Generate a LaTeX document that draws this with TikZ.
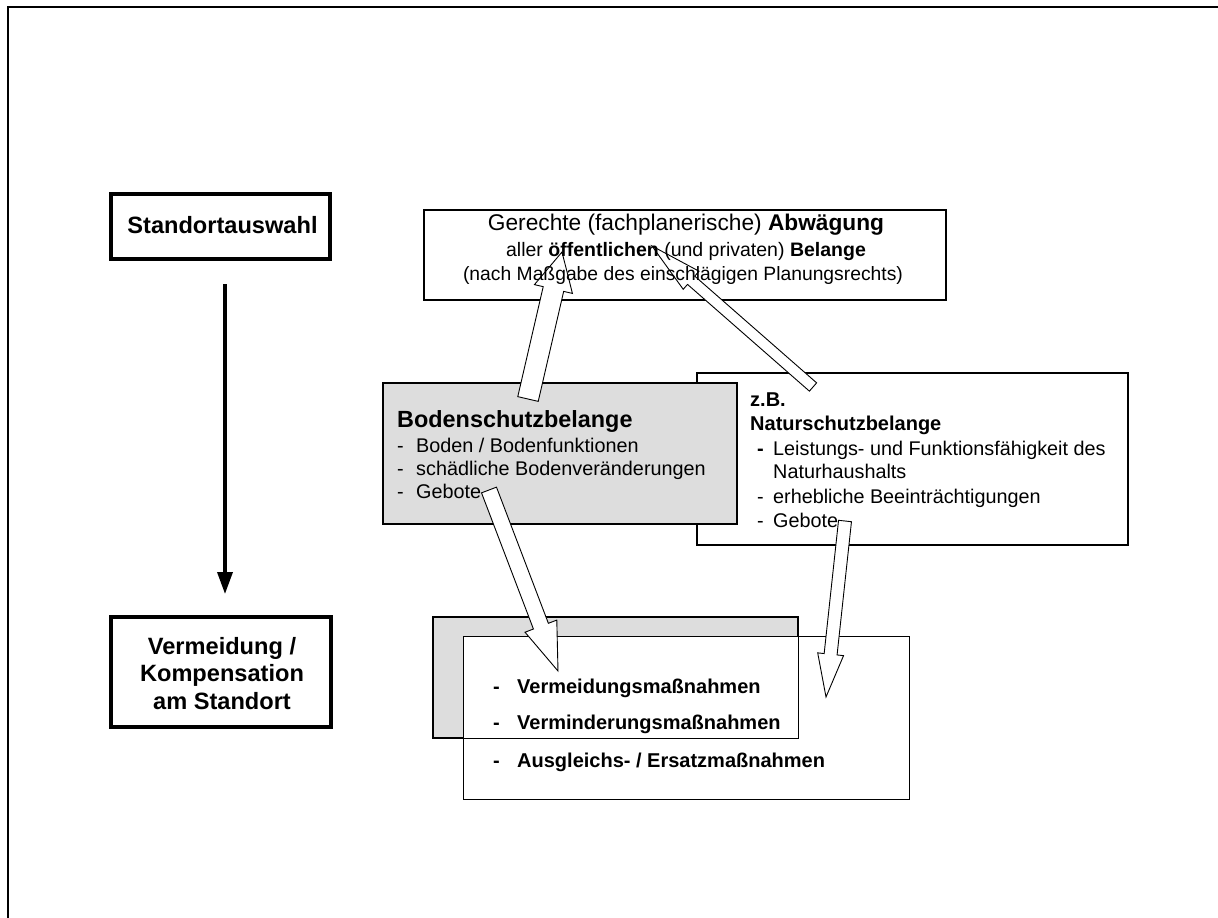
\documentclass[tikz,border=0pt]{standalone}
\usepackage{fontspec}
\setmainfont{Liberation Sans}
\usetikzlibrary{calc,arrows.meta}
\definecolor{boxgray}{RGB}{221,221,221}
\newcommand\blockarrow[5]{%
  \path ($(#2)!#5!(#1)$) coordinate (ahb);
  \draw[blockarr] ($(#1)!#3!90:(#2)$) -- ($(ahb)!#3!90:(#2)$) -- ($(ahb)!#4!90:(#2)$) -- (#2)
    -- ($(ahb)!#4!-90:(#2)$) -- ($(ahb)!#3!-90:(#2)$) -- ($(#1)!#3!-90:(#2)$) -- cycle;
}
\tikzset{
  thickbox/.style={draw, line width=4pt, fill=white, inner sep=0pt},
  thinbox/.style={draw, line width=1.1pt, fill=white, inner sep=0pt},
  graybox/.style={draw, line width=1.1pt, fill=boxgray, inner sep=0pt},
  blockarr/.style={draw, fill=white, line width=0.9pt, line join=miter},
  vert/.style={line width=3.5pt, -{Triangle[length=22pt,width=15pt]}},
  txt/.style={inner sep=0pt, anchor=base west},
  ctxt/.style={inner sep=0pt, anchor=base},
  bigb/.style={font=\fontsize{23.6}{27}\selectfont\bfseries},
  headb/.style={font=\fontsize{23.4}{27}\selectfont\bfseries},
  item/.style={font=\fontsize{19.8}{23}\selectfont},
  itemb/.style={font=\fontsize{20}{23}\selectfont\bfseries},
}
\begin{document}
\begin{tikzpicture}[x=1pt,y=-1pt]
\useasboundingbox (0,0) rectangle (1218,918);
% outer frame
\draw[line width=2pt] (8,918) -- (8,7) -- (1218,7);

% left column
\node[thickbox, minimum width=219pt, minimum height=65pt] (std) at (220.5,226.5) {};
\node[thickbox, minimum width=220pt, minimum height=110pt] (verm) at (221,672) {};
\draw[vert, shorten <=23pt, shorten >=21pt] ([xshift=4.5pt]std.south) -- ([xshift=4pt]verm.north);

% boxes
\node[thinbox, minimum width=522pt, minimum height=90pt] (abw) at (685,255) {};
\node[thinbox, minimum width=431pt, minimum height=172pt] (natur) at (912.5,459) {};
\node[graybox, minimum width=354pt, minimum height=141pt] (boden) at (560,453.5) {};
\node[graybox, minimum width=365pt, minimum height=121pt] (mgray) at (615.5,677.5) {};
\node[thinbox, draw=none, minimum width=445pt, minimum height=162pt] (mwhite) at (686.5,718) {};
\draw[line width=1.1pt] (mgray.north west) rectangle (mgray.south east);
\draw[line width=1.1pt] (mwhite.north west) rectangle (mwhite.south east);

% block arrows
\coordinate (a1t) at (528,399); \coordinate (a1h) at (562,252);
\blockarrow{a1t}{a1h}{10.5pt}{19.5pt}{38pt}
\coordinate (a2t) at (813,387); \coordinate (a2h) at (652,246);
\blockarrow{a2t}{a2h}{5.5pt}{12pt}{52pt}
\coordinate (a3t) at (489,490); \coordinate (a3h) at (558,671);
\blockarrow{a3t}{a3h}{8pt}{17pt}{48pt}
\coordinate (a4t) at (845,521); \coordinate (a4h) at (826,697);
\blockarrow{a4t}{a4h}{6.5pt}{13pt}{43pt}

% texts left
\node[ctxt, bigb] (stdt) at (222.5,233) {Standortauswahl};
\node[ctxt, bigb] (vt1) at (222,654) {Vermeidung /};
\node[ctxt, bigb] (vt2) at (222,681.5) {Kompensation};
\node[ctxt, bigb] (vt3) at (222,709) {am Standort};

% texts top box
\node[ctxt, font=\fontsize{22.7}{26}\selectfont] (g1) at (686,230) {Gerechte (fachplanerische) \textbf{Abwägung}};
\node[ctxt, font=\fontsize{19.5}{23}\selectfont] (g2) at (686,256.5) {aller \textbf{öffentlichen} (und privaten) \textbf{Belange}};
\node[ctxt, font=\fontsize{19.3}{23}\selectfont] (g3) at (683,280) {(nach Maßgabe des einschlägigen Planungsrechts)};

% texts Bodenschutz
\node[txt, headb] (bt) at (397,427) {Bodenschutzbelange};
\node[txt, item] (bd1) at (397,452) {-};
\node[txt, item] (bi1) at (416,452) {Boden / Bodenfunktionen};
\node[txt, item] (bd2) at (397,475) {-};
\node[txt, item] (bi2) at (416,475) {schädliche Bodenveränderungen};
\node[txt, item] (bd3) at (397,498) {-};
\node[txt, item] (bi3) at (416,498) {Gebote};

% texts Naturschutz
\node[txt, itemb] (nz) at (750,406) {z.B.};
\node[txt, itemb] (nt) at (750,430) {Naturschutzbelange};
\node[txt, itemb] (nd1) at (757,455) {-};
\node[txt, item] (ni1) at (773,455) {Leistungs- und Funktionsfähigkeit des};
\node[txt, item] (ni1b) at (773,478) {Naturhaushalts};
\node[txt, item] (nd2) at (757,503) {-};
\node[txt, item] (ni2) at (773,503) {erhebliche Beeinträchtigungen};
\node[txt, item] (nd3) at (757,527) {-};
\node[txt, item] (ni3) at (773,527) {Gebote};

% texts measures
\node[txt, itemb] (md1) at (493,693) {-};
\node[txt, itemb] (mi1) at (517,693) {Vermeidungsmaßnahmen};
\node[txt, itemb] (md2) at (493,729) {-};
\node[txt, itemb] (mi2) at (517,729) {Verminderungsmaßnahmen};
\node[txt, itemb] (md3) at (493,767) {-};
\node[txt, itemb] (mi3) at (517,767) {Ausgleichs- / Ersatzmaßnahmen};
\end{tikzpicture}
\end{document}
